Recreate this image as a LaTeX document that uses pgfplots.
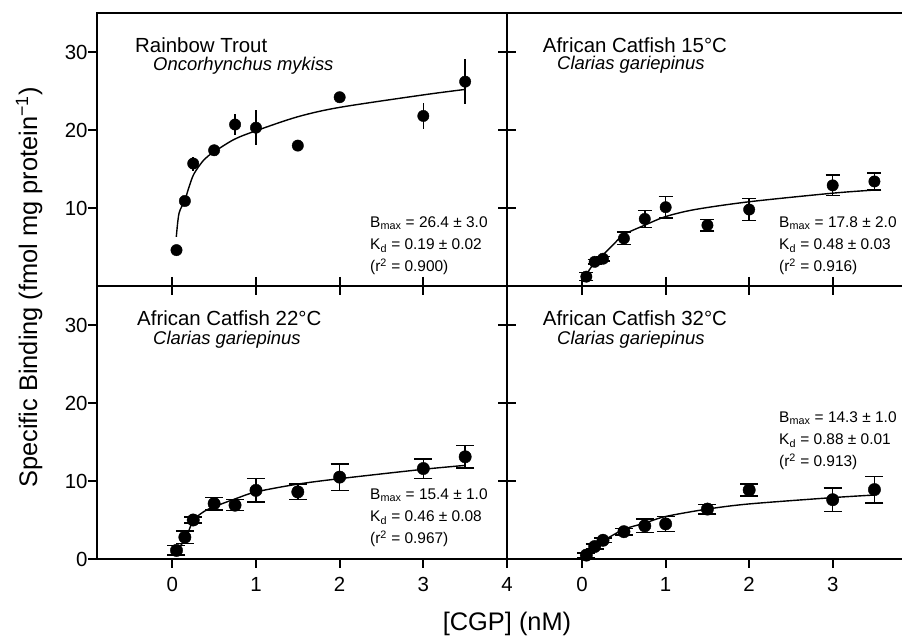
\documentclass[border=0pt]{standalone}
\usepackage{fontspec}
\setmainfont{Liberation Sans}
\usepackage{pgfplots}
\pgfplotsset{compat=1.18}
\usepackage{pgfplotstable}

% Rainbow trout
\pgfplotstableread[row sep=\\]{
x y e\\
0.05 4.6 0.2\\
0.15 10.9 0.3\\
0.25 15.7 0.9\\
0.5 17.4 0.6\\
0.75 20.7 1.3\\
1.0 20.3 2.2\\
1.5 18.0 0.4\\
2.0 24.2 0.5\\
3.0 21.8 1.7\\
3.5 26.2 2.9\\
}\ptA
\pgfplotstableread[row sep=\\]{
x y\\
0.048 6.3\\
0.08 9.3\\
0.15 11.0\\
0.2 12.7\\
0.26 14.4\\
0.38 16.2\\
0.5 17.2\\
0.74 18.8\\
1.0 19.9\\
1.5 21.7\\
2.0 22.9\\
3.0 24.5\\
3.5 25.2\\
}\fitA
% Catfish 15
\pgfplotstableread[row sep=\\]{
x y e\\
0.05 1.2 0.5\\
0.15 3.1 0.3\\
0.25 3.5 0.3\\
0.5 6.1 0.8\\
0.75 8.6 1.1\\
1.0 10.1 1.4\\
1.5 7.8 0.75\\
2.0 9.8 1.4\\
3.0 12.9 1.3\\
3.5 13.4 1.1\\
}\ptB
\pgfplotstableread[row sep=\\]{
x y\\
0.01 0.55\\
0.07 1.8\\
0.15 3.0\\
0.25 4.0\\
0.39 5.5\\
0.5 6.6\\
0.75 7.8\\
1.0 8.9\\
1.35 9.8\\
2.0 10.8\\
3.0 11.9\\
3.5 12.3\\
}\fitB
% Catfish 22
\pgfplotstableread[row sep=\\]{
x y e\\
0.05 1.1 0.6\\
0.15 2.8 0.8\\
0.25 5.0 0.4\\
0.5 7.1 0.8\\
0.75 6.9 0.7\\
1.0 8.8 1.5\\
1.5 8.6 1.0\\
2.0 10.5 1.7\\
3.0 11.6 1.25\\
3.5 13.1 1.45\\
}\ptC
\pgfplotstableread[row sep=\\]{
x y\\
0.02 0.77\\
0.15 2.46\\
0.25 4.9\\
0.38 6.1\\
0.5 6.7\\
0.75 7.7\\
1.0 8.6\\
1.5 9.6\\
2.0 10.3\\
3.0 11.5\\
3.5 12.0\\
}\fitC
% Catfish 32
\pgfplotstableread[row sep=\\]{
x y e\\
0.05 0.5 0.3\\
0.15 1.6 0.3\\
0.25 2.4 0.3\\
0.5 3.5 0.4\\
0.75 4.25 0.85\\
1.0 4.5 0.95\\
1.5 6.4 0.6\\
2.0 8.85 0.75\\
3.0 7.6 1.5\\
3.5 8.9 1.7\\
}\ptD
\pgfplotstableread[row sep=\\]{
x y\\
0.0 0.13\\
0.1 1.1\\
0.25 2.3\\
0.5 3.8\\
0.75 4.6\\
1.0 5.45\\
1.5 6.4\\
2.0 7.06\\
3.0 7.87\\
3.5 8.2\\
}\fitD

\pgfplotsset{
  panel/.style={
    scale only axis, height=273bp,
    ymin=0, ymax=35,
    tick align=outside, major tick length=9bp,
    axis line style={line width=2.8bp, black},
    every tick/.style={line width=1.7bp, black},
    ticklabel style={font=\fontsize{20.5}{24}\selectfont},
    xticklabel style={yshift=-6bp},
    yticklabel style={xshift=3bp},
    /pgf/number format/assume math mode=true,
  },
  pts/.style={only marks, mark=*, mark size=5.7bp, black,
    error bars/y dir=both, error bars/y explicit,
    error bars/error bar style={line width=1.5bp, black},
    error bars/error mark options={rotate=90, mark size=#1, line width=1.5bp, black}},
  pts/.default=9bp,
  fitc/.style={no marks, smooth, line width=1.4bp, black},
}

\begin{document}
\begin{tikzpicture}
\useasboundingbox (0,0) rectangle (902bp,636bp);

% top-left
\begin{axis}[panel, at={(97bp,350bp)}, anchor=south west, width=410bp,
  xmin=-0.9, xmax=4, xtick={0,1,2,3,4}, xticklabels={},
  ytick={10,20,30}, xtick pos=left, ytick pos=both, yticklabel pos=left]
\addplot[fitc] table[x=x,y=y] {\fitA};
\addplot[pts, error bars/error mark=none] table[x=x,y=y,y error=e] {\ptA};
\end{axis}

% top-right
\begin{axis}[panel, at={(507bp,350bp)}, anchor=south west, width=402bp,
  xmin=-0.9, xmax=3.914, xtick={0,1,2,3}, xticklabels={},
  ytick={10,20,30}, yticklabels={}, xtick pos=left, ytick pos=left]
\addplot[fitc] table[x=x,y=y] {\fitB};
\addplot[pts=7bp] table[x=x,y=y,y error=e] {\ptB};
\end{axis}

% bottom-left
\begin{axis}[panel, at={(97bp,77bp)}, anchor=south west, width=410bp,
  xmin=-0.9, xmax=4, xtick={0,1,2,3,4},
  ytick={0,10,20,30}, xtick pos=both, xticklabel pos=left,
  ytick pos=both, yticklabel pos=left]
\addplot[fitc] table[x=x,y=y] {\fitC};
\addplot[pts, mark size=6.2bp] table[x=x,y=y,y error=e] {\ptC};
\end{axis}

% bottom-right
\begin{axis}[panel, at={(507bp,77bp)}, anchor=south west, width=402bp,
  xmin=-0.9, xmax=3.914, xtick={0,1,2,3},
  ytick={10,20,30}, yticklabels={}, xtick pos=both, xticklabel pos=left,
  ytick pos=left]
\addplot[fitc] table[x=x,y=y] {\fitD};
\addplot[pts, mark size=6.2bp] table[x=x,y=y,y error=e] {\ptD};
\end{axis}

% titles
\def\tfont{\fontsize{20.5}{24}\selectfont}
\def\sfont{\fontsize{18.5}{22}\selectfont\itshape}
\def\afont{\fontsize{15.5}{18}\selectfont}
\node[anchor=base west, inner sep=0] at (135bp,583.7bp) {\tfont Rainbow Trout};
\node[anchor=base west, inner sep=0] at (153bp,565.3bp) {\sfont Oncorhynchus mykiss};
\node[anchor=base west, inner sep=0] at (542.7bp,583.7bp) {\tfont African Catfish 15°C};
\node[anchor=base west, inner sep=0] at (557bp,566bp) {\sfont Clarias gariepinus};
\node[anchor=base west, inner sep=0] at (137bp,310bp) {\tfont African Catfish 22°C};
\node[anchor=base west, inner sep=0] at (153bp,291.7bp) {\sfont Clarias gariepinus};
\node[anchor=base west, inner sep=0] at (542.7bp,310bp) {\tfont African Catfish 32°C};
\node[anchor=base west, inner sep=0] at (557bp,291.7bp) {\sfont Clarias gariepinus};

% annotations
\node[anchor=base west, inner sep=0] at (370bp,408.3bp) {\afont B\textsubscript{max} = 26.4 ± 3.0};
\node[anchor=base west, inner sep=0] at (370bp,386bp) {\afont K\textsubscript{d} = 0.19 ± 0.02};
\node[anchor=base west, inner sep=0] at (370bp,364.3bp) {\afont (r\textsuperscript{2} = 0.900)};
\node[anchor=base west, inner sep=0] at (779bp,408.3bp) {\afont B\textsubscript{max} = 17.8 ± 2.0};
\node[anchor=base west, inner sep=0] at (779bp,386bp) {\afont K\textsubscript{d} = 0.48 ± 0.03};
\node[anchor=base west, inner sep=0] at (779bp,364.3bp) {\afont (r\textsuperscript{2} = 0.916)};
\node[anchor=base west, inner sep=0] at (370bp,136.7bp) {\afont B\textsubscript{max} = 15.4 ± 1.0};
\node[anchor=base west, inner sep=0] at (370bp,114.3bp) {\afont K\textsubscript{d} = 0.46 ± 0.08};
\node[anchor=base west, inner sep=0] at (370bp,92bp) {\afont (r\textsuperscript{2} = 0.967)};
\node[anchor=base west, inner sep=0] at (779bp,213.3bp) {\afont B\textsubscript{max} = 14.3 ± 1.0};
\node[anchor=base west, inner sep=0] at (779bp,191bp) {\afont K\textsubscript{d} = 0.88 ± 0.01};
\node[anchor=base west, inner sep=0] at (779bp,169.3bp) {\afont (r\textsuperscript{2} = 0.913)};

% axis labels
\node[anchor=base, inner sep=0, rotate=90] at (37bp,348.5bp) {\fontsize{25.5}{30}\selectfont Specific Binding (fmol mg protein\textsuperscript{−1})};
\node[anchor=base, inner sep=0] at (507bp,5.3bp) {\fontsize{25.5}{30}\selectfont [CGP] (nM)};
\end{tikzpicture}
\end{document}
